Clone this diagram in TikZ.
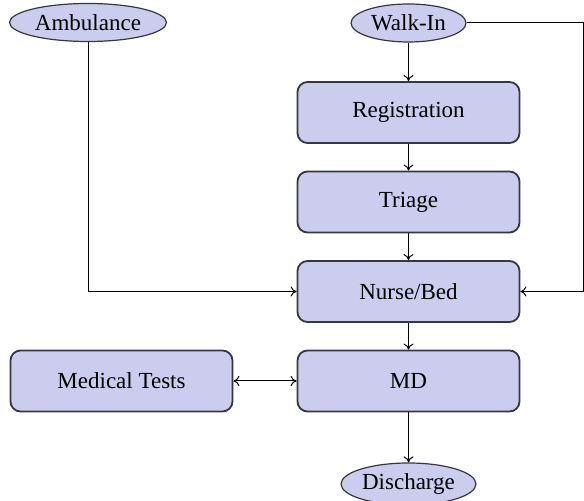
\documentclass[tikz,border=0pt]{standalone}
\usepackage{fontspec}
\setmainfont{Liberation Serif}
\newfontfamily\timesfont{Liberation Serif}
\usetikzlibrary{shapes.geometric,arrows.meta}
\definecolor{boxfill}{RGB}{204,204,238}
\definecolor{boxdraw}{RGB}{55,55,65}
\begin{document}
\begin{tikzpicture}[x=0.5pt,y=-0.5pt,
  font=\timesfont\fontsize{11.5}{13}\selectfont,
  stepbox/.style={draw=boxdraw,line width=0.9pt,fill=boxfill,rounded corners=5pt,
    minimum width=111pt,minimum height=30.5pt,inner sep=0pt},
  termnode/.style={ellipse,draw=boxdraw,line width=0.6pt,fill=boxfill,
    minimum height=19pt,inner sep=0pt},
  conn/.style={line width=0.5pt,-{To[length=3pt,width=5pt]}}]
\useasboundingbox (0,0) rectangle (584,501);
\node[termnode,minimum width=78.5pt] (amb) at (88,22.5) {Ambulance};
\node[termnode,minimum width=57.5pt] (walk) at (408.5,23) {Walk-In};
\node[stepbox] (reg) at (408.5,112.5) {Registration};
\node[stepbox] (tri) at (408.5,202) {Triage};
\node[stepbox] (nurse) at (408.5,291.5) {Nurse/Bed};
\node[stepbox] (md) at (408.5,381) {MD};
\node[stepbox] (tests) at (121.5,381) {Medical Tests};
\node[termnode,minimum width=67.5pt,minimum height=21pt] (dis) at (408.5,484) {Discharge};
\coordinate (rc) at (583.5,23);
\draw[conn] (walk) -- (reg);
\draw[conn] (reg) -- (tri);
\draw[conn] (tri) -- (nurse);
\draw[conn] (nurse) -- (md);
\draw[conn] (md) -- (dis);
\draw[conn,{To[length=3pt,width=5pt]}-{To[length=3pt,width=5pt]}] (tests) -- (md);
\draw[conn] (amb.south) |- (nurse.west);
\draw[conn] (walk.east) -- (rc) |- (nurse.east);
\end{tikzpicture}
\end{document}
